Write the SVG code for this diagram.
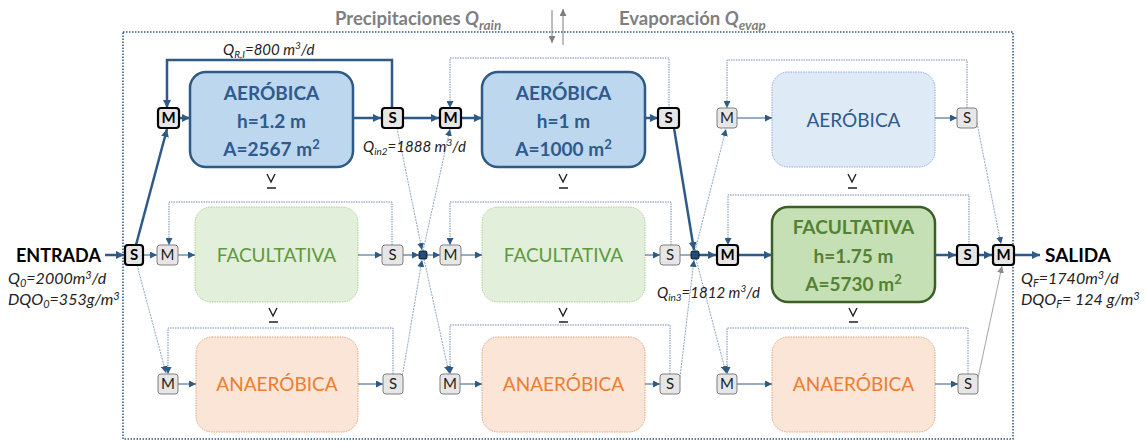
<svg xmlns="http://www.w3.org/2000/svg" width="1146" height="441" viewBox="0 0 1146 441">
<defs>
<marker id="a" viewBox="0 0 10 10" refX="10" refY="5" markerWidth="7" markerHeight="7" markerUnits="userSpaceOnUse" orient="auto"><path d="M0,0 L10,5 L0,10 z" fill="#2e5a87"/></marker>
<marker id="ab" viewBox="0 0 10 10" refX="10" refY="5" markerWidth="8" markerHeight="8" markerUnits="userSpaceOnUse" orient="auto"><path d="M0,0 L10,5 L0,10 z" fill="#2e5a87"/></marker>
<marker id="ag" viewBox="0 0 10 10" refX="10" refY="5" markerWidth="7" markerHeight="7" markerUnits="userSpaceOnUse" orient="auto"><path d="M0,0 L10,5 L0,10 z" fill="#8c8c8c"/></marker>
<marker id="at" viewBox="0 0 10 10" refX="10" refY="5" markerWidth="7" markerHeight="7" markerUnits="userSpaceOnUse" orient="auto"><path d="M0,0 L10,5 L0,10 z" fill="#7f7f7f"/></marker>
<style>
text{font-family:Lato,"Liberation Sans",sans-serif}
.thick{fill:none;stroke:#2e5a87;stroke-width:2.5;marker-end:url(#ab)}
.thin{fill:none;stroke:#2e5a87;stroke-width:1;marker-end:url(#a)}
.dot{fill:none;stroke:#6f8fb5;stroke-width:1;stroke-dasharray:1.5 1;marker-end:url(#a)}
.diag{fill:none;stroke:#8aa6c6;stroke-width:1;stroke-dasharray:2 1;marker-end:url(#a)}
.nb rect{fill:#e7e6e6;stroke:#000;stroke-width:2.2}
.nl rect{fill:#e7e6e6;stroke:#7f7f7f;stroke-width:1}
.nb text{font-size:15px;font-weight:bold;text-anchor:middle;fill:#000}
.nl text{font-size:15px;text-anchor:middle;fill:#222}
.lbl{font-size:15px;font-style:italic;fill:#222}
.lbo{font-size:16px;font-style:italic;fill:#222}
.big{font-size:19px;text-anchor:middle}
.ttl{font-size:18.5px;font-weight:bold;fill:#7f7f7f}
.lvl path{fill:none;stroke:#222}
</style>
</defs>

<!-- outer boundary -->
<rect x="123" y="32" width="890" height="407" fill="none" stroke="#2e5a87" stroke-width="1.5" stroke-dasharray="1.5 1.5"/>

<!-- top labels -->
<g id="precip">
<text class="ttl" x="335" y="25">Precipitaciones <tspan font-style="italic">Q</tspan><tspan font-style="italic" font-size="13.5" dy="5">rain</tspan></text>
</g>
<g id="evap">
<text class="ttl" x="619" y="25">Evaporación <tspan font-style="italic">Q</tspan><tspan font-style="italic" font-size="13.5" dy="5">evap</tspan></text>
</g>

<!-- process boxes -->
<g id="aer1"><rect x="190" y="72" width="163" height="95" rx="16" fill="#bdd7ee" stroke="#2e5a87" stroke-width="2.5"/>
<text class="big" x="271.5" y="100" font-weight="bold" fill="#2f5a8f">AERÓBICA</text>
<text class="big" x="271.5" y="128" font-weight="bold" fill="#2f5a8f">h=1.2 m</text>
<text class="big" x="271.5" y="156" font-weight="bold" fill="#2f5a8f">A=2567 m<tspan font-size="13" dy="-7">2</tspan></text></g>
<g id="aer2"><rect x="482" y="72" width="163" height="95" rx="16" fill="#bdd7ee" stroke="#2e5a87" stroke-width="2.5"/>
<text class="big" x="563.5" y="100" font-weight="bold" fill="#2f5a8f">AERÓBICA</text>
<text class="big" x="563.5" y="128" font-weight="bold" fill="#2f5a8f">h=1 m</text>
<text class="big" x="563.5" y="156" font-weight="bold" fill="#2f5a8f">A=1000 m<tspan font-size="13" dy="-7">2</tspan></text></g>
<g id="aer3"><rect x="772" y="72" width="163" height="95" rx="16" fill="#deebf7" stroke="#8faadc" stroke-width="1" stroke-dasharray="1.5 1"/>
<text class="big" x="853.5" y="127" fill="#2f5a8f">AERÓBICA</text></g>

<g id="fac1"><rect x="195" y="207" width="163" height="95" rx="16" fill="#e2efda" stroke="#a9d18e" stroke-width="1" stroke-dasharray="1.5 1"/>
<text class="big" x="276.5" y="262" fill="#5f9a3e">FACULTATIVA</text></g>
<g id="fac2"><rect x="482" y="207" width="163" height="95" rx="16" fill="#e2efda" stroke="#a9d18e" stroke-width="1" stroke-dasharray="1.5 1"/>
<text class="big" x="563.5" y="262" fill="#5f9a3e">FACULTATIVA</text></g>
<g id="fac3"><rect x="772" y="207" width="163" height="95" rx="16" fill="#c5e0b4" stroke="#3b5f27" stroke-width="2.5"/>
<text class="big" x="853.5" y="234" font-weight="bold" fill="#548235">FACULTATIVA</text>
<text class="big" x="853.5" y="263" font-weight="bold" fill="#548235">h=1.75 m</text>
<text class="big" x="853.5" y="291" font-weight="bold" fill="#548235">A=5730 m<tspan font-size="13" dy="-7">2</tspan></text></g>

<g id="ana1"><rect x="196" y="337" width="162" height="95" rx="16" fill="#fbe5d6" stroke="#e4a57c" stroke-width="1" stroke-dasharray="1.5 1"/>
<text class="big" x="277" y="391" fill="#ed7d31">ANAERÓBICA</text></g>
<g id="ana2"><rect x="482" y="337" width="163" height="95" rx="16" fill="#fbe5d6" stroke="#e4a57c" stroke-width="1" stroke-dasharray="1.5 1"/>
<text class="big" x="563.5" y="391" fill="#ed7d31">ANAERÓBICA</text></g>
<g id="ana3"><rect x="772" y="337" width="163" height="95" rx="16" fill="#fbe5d6" stroke="#e4a57c" stroke-width="1" stroke-dasharray="1.5 1"/>
<text class="big" x="853.5" y="391" fill="#ed7d31">ANAERÓBICA</text></g>

<!-- connectors -->
<g id="connectors">
<path d="M552,10 V43" fill="none" stroke="#7f7f7f" stroke-width="1" marker-end="url(#at)"/>
<path d="M563,45 V9" fill="none" stroke="#7f7f7f" stroke-width="1" marker-end="url(#at)"/>

<path class="thick" d="M105,255 H124"/>
<path class="thick" d="M136,245 L167,129"/>
<path class="thick" d="M179,118 H190"/>
<path class="thick" d="M353,118 H381"/>
<path class="thick" d="M392,108 V60 H167 V108"/>
<path class="thick" d="M403,118 H439"/>
<path class="thick" d="M461,118 H482"/>
<path class="thick" d="M645,118 H658"/>
<path class="thick" d="M674,128 L694,250"/>
<path class="thick" d="M699,255 H716"/>
<path class="thick" d="M738,255 H772"/>
<path class="thick" d="M935,255 H956"/>
<path class="thick" d="M978,255 H992"/>
<path class="thick" d="M1014,255 H1040"/>

<path class="thin" d="M143,255 H157"/>
<path class="thin" d="M178,255 H195"/>
<path class="thin" d="M358,255 H382"/>
<path class="thin" d="M403,255 H419"/>
<path class="thin" d="M427,255 H440"/>
<path class="thin" d="M461,255 H482"/>
<path class="thin" d="M645,255 H660"/>
<path d="M680,255 H691" fill="none" stroke="#2e5a87" stroke-width="1"/>
<path class="thin" d="M178,384 H196"/>
<path class="thin" d="M358,384 H383"/>
<path class="thin" d="M460,384 H482"/>
<path class="thin" d="M645,384 H660"/>
<path class="thin" d="M737,384 H772"/>
<path class="thin" d="M935,384 H958"/>
<path class="thin" d="M737,118 H772"/>
<path class="thin" d="M935,118 H957"/>

<path class="dot" d="M392,245 V202 H169 V245"/>
<path class="dot" d="M393,374 V328 H168 V374"/>
<path class="dot" d="M669,108 V58 H450 V108"/>
<path class="dot" d="M671,245 V202 H450 V245"/>
<path class="dot" d="M670,374 V325 H450 V374"/>
<path class="dot" d="M967,108 V60 H727 V108"/>
<path class="dot" d="M969,245 V195 H728 V245"/>
<path class="dot" d="M968,374 V328 H727 V374"/>

<path class="diag" d="M137,265 L166,373"/>
<path class="diag" d="M397,128 L422,250"/>
<path class="diag" d="M423,251 L450,129"/>
<path class="diag" d="M402,378 L422,260"/>
<path class="diag" d="M424,259 L449,373"/>
<path class="diag" d="M695,251 L726,129"/>
<path class="diag" d="M680,377 L694,260"/>
<path class="diag" d="M696,259 L726,373"/>
<path class="diag" d="M977,123 L1001,244"/>
<path d="M978,378 L1002,266" fill="none" stroke="#a6a6a6" stroke-width="1" marker-end="url(#ag)"/>
</g>

<g id="j1"><rect x="419" y="251" width="8" height="8" rx="1.5" fill="#1f4e79" stroke="#000" stroke-width="0.8"/></g>
<g id="j2"><rect x="691" y="251" width="8" height="8" rx="1.5" fill="#1f4e79" stroke="#000" stroke-width="0.8"/></g>

<g id="S0" class="nb"><rect x="125" y="245" width="18" height="20" rx="3"/><text x="134" y="260">S</text></g>
<g id="M1a" class="nb"><rect x="158" y="108" width="21" height="20" rx="3"/><text x="168.5" y="123">M</text></g>
<g id="S1a" class="nb"><rect x="382" y="108" width="21" height="20" rx="3"/><text x="392.5" y="123">S</text></g>
<g id="M2a" class="nb"><rect x="440" y="108" width="21" height="20" rx="3"/><text x="450.5" y="123">M</text></g>
<g id="S2a" class="nb"><rect x="658" y="108" width="21" height="20" rx="3"/><text x="668.5" y="123">S</text></g>
<g id="M3a" class="nl"><rect x="717" y="108" width="20" height="20" rx="3"/><text x="727" y="123">M</text></g>
<g id="S3a" class="nl"><rect x="957" y="108" width="20" height="20" rx="3"/><text x="967" y="123">S</text></g>

<g id="M1b" class="nl"><rect x="157" y="245" width="21" height="20" rx="3"/><text x="167.5" y="260">M</text></g>
<g id="S1b" class="nl"><rect x="382" y="245" width="21" height="20" rx="3"/><text x="392.5" y="260">S</text></g>
<g id="M2b" class="nl"><rect x="440" y="245" width="21" height="20" rx="3"/><text x="450.5" y="260">M</text></g>
<g id="S2b" class="nl"><rect x="660" y="245" width="20" height="20" rx="3"/><text x="670" y="260">S</text></g>
<g id="M3b" class="nb"><rect x="717" y="245" width="21" height="20" rx="3"/><text x="727.5" y="260">M</text></g>
<g id="S3b" class="nb"><rect x="957" y="245" width="21" height="20" rx="3"/><text x="967.5" y="260">S</text></g>
<g id="Mout" class="nb"><rect x="993" y="245" width="21" height="20" rx="3"/><text x="1003.5" y="260">M</text></g>

<g id="M1c" class="nl"><rect x="158" y="374" width="20" height="20" rx="3"/><text x="168" y="389">M</text></g>
<g id="S1c" class="nl"><rect x="383" y="374" width="20" height="20" rx="3"/><text x="393" y="389">S</text></g>
<g id="M2c" class="nl"><rect x="440" y="374" width="20" height="20" rx="3"/><text x="450" y="389">M</text></g>
<g id="S2c" class="nl"><rect x="660" y="374" width="20" height="20" rx="3"/><text x="670" y="389">S</text></g>
<g id="M3c" class="nl"><rect x="717" y="374" width="20" height="20" rx="3"/><text x="727" y="389">M</text></g>
<g id="S3c" class="nl"><rect x="958" y="374" width="20" height="20" rx="3"/><text x="968" y="389">S</text></g>

<g class="lvl">
<path d="M267,174 L271,182 L275,174 M267,188 H276" stroke-width="1.4"/>
<path d="M559,174 L563,182 L567,174 M559,188 H568" stroke-width="1.4"/>
<path d="M848,174 L852,182 L856,174 M848,188 H857" stroke-width="1.4"/>
<path d="M269,308 L273,316 L277,308 M269,322 H278" stroke-width="1.4"/>
<path d="M559,308 L563,316 L567,308 M559,322 H568" stroke-width="1.4"/>
<path d="M849,308 L853,316 L857,308 M849,322 H858" stroke-width="1.4"/>
</g>

<g id="entrada">
<text x="16" y="262" font-size="18" font-weight="bold" fill="#000">ENTRADA</text>
<text class="lbo" x="8" y="284">Q<tspan font-size="11" dy="2.5">0</tspan><tspan dy="-2.5">=2000m</tspan><tspan font-size="11" dy="-5">3</tspan><tspan dy="5">/d</tspan></text>
<text class="lbo" x="8" y="305">DQO<tspan font-size="11" dy="2.5">0</tspan><tspan dy="-2.5">=353g/m</tspan><tspan font-size="11" dy="-5">3</tspan></text>
</g>
<g id="salida">
<text x="1045" y="262" font-size="19" font-weight="bold" fill="#000">SALIDA</text>
<text class="lbo" x="1021" y="284">Q<tspan font-size="11" dy="2.5">F</tspan><tspan dy="-2.5">=1740m</tspan><tspan font-size="11" dy="-5">3</tspan><tspan dy="5">/d</tspan></text>
<text class="lbo" x="1021" y="305">DQO<tspan font-size="11" dy="2.5">F</tspan><tspan dy="-2.5">= 124 g/m</tspan><tspan font-size="11" dy="-5">3</tspan></text>
</g>
<text class="lbl" x="223" y="55">Q<tspan font-size="10" dy="3">R,I</tspan><tspan dy="-3">=800 m</tspan><tspan font-size="10" dy="-6">3</tspan><tspan dy="6">/d</tspan></text>
<text class="lbl" x="363" y="152">Q<tspan font-size="10" dy="3">in2</tspan><tspan dy="-3">=1888 m</tspan><tspan font-size="10" dy="-6">3</tspan><tspan dy="6">/d</tspan></text>
<text class="lbl" x="657" y="298">Q<tspan font-size="10" dy="3">in3</tspan><tspan dy="-3">=1812 m</tspan><tspan font-size="10" dy="-6">3</tspan><tspan dy="6">/d</tspan></text>
</svg>
